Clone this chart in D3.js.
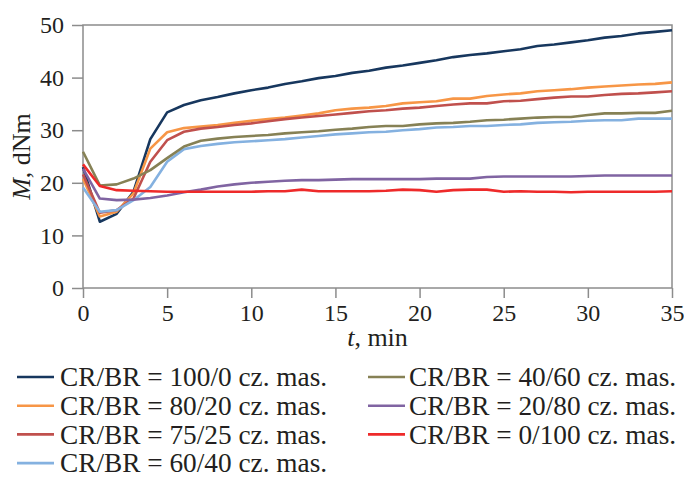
<!DOCTYPE html>
<html>
<head>
<meta charset="utf-8">
<script src="https://cdn.jsdelivr.net/npm/d3@7"></script>
<style>
  body { margin: 0; background: #fff; }
  text { font-family: "Liberation Serif", serif; fill: #231f20; }
</style>
</head>
<body>
<div id="chart"></div>
<script>
// czas mieszania, min
const minutes = d3.range(0, 36);

// moment obrotowy M, dNm dla kazdej mieszanki CR/BR
const cr100 = [23.0, 12.6, 14.1, 18.3, 28.3, 33.4, 34.8, 35.7, 36.3, 37.0, 37.6, 38.1, 38.8, 39.3, 39.9, 40.3, 40.9, 41.3, 41.9, 42.3, 42.8, 43.3, 43.9, 44.3, 44.6, 45.0, 45.4, 46.0, 46.3, 46.7, 47.1, 47.6, 47.9, 48.4, 48.7, 49.0];
const cr80 = [20.8, 13.6, 14.5, 18.0, 26.5, 29.6, 30.4, 30.7, 31.0, 31.4, 31.8, 32.1, 32.4, 32.8, 33.2, 33.8, 34.1, 34.3, 34.6, 35.1, 35.3, 35.5, 36.0, 36.0, 36.5, 36.8, 37.0, 37.4, 37.6, 37.8, 38.1, 38.3, 38.5, 38.7, 38.8, 39.1];
const cr75 = [21.6, 14.3, 14.8, 17.0, 24.0, 28.1, 29.7, 30.3, 30.6, 31.0, 31.3, 31.7, 32.1, 32.4, 32.7, 33.0, 33.3, 33.6, 33.8, 34.1, 34.3, 34.6, 34.9, 35.1, 35.1, 35.5, 35.6, 35.9, 36.2, 36.4, 36.4, 36.7, 36.9, 37.0, 37.2, 37.4];
const cr60 = [19.1, 14.5, 14.8, 16.7, 19.2, 24.0, 26.4, 27.0, 27.4, 27.7, 27.9, 28.1, 28.3, 28.6, 28.9, 29.2, 29.4, 29.6, 29.7, 30.0, 30.2, 30.5, 30.6, 30.8, 30.8, 31.0, 31.1, 31.4, 31.5, 31.6, 31.8, 31.9, 31.9, 32.2, 32.2, 32.2];
const cr40 = [25.9, 19.5, 19.7, 20.8, 22.4, 24.7, 26.9, 28.0, 28.4, 28.7, 28.9, 29.1, 29.4, 29.6, 29.8, 30.1, 30.3, 30.6, 30.8, 30.8, 31.1, 31.3, 31.4, 31.6, 31.9, 32.0, 32.2, 32.4, 32.5, 32.5, 32.9, 33.2, 33.2, 33.3, 33.3, 33.7];
const cr20 = [22.7, 17.0, 16.7, 16.8, 17.1, 17.6, 18.2, 18.7, 19.3, 19.7, 20.0, 20.2, 20.4, 20.5, 20.5, 20.6, 20.7, 20.7, 20.7, 20.7, 20.7, 20.8, 20.8, 20.8, 21.1, 21.2, 21.2, 21.2, 21.2, 21.2, 21.3, 21.4, 21.4, 21.4, 21.4, 21.4];
const cr0 = [23.5, 19.4, 18.6, 18.5, 18.4, 18.3, 18.3, 18.3, 18.3, 18.3, 18.3, 18.4, 18.4, 18.7, 18.4, 18.4, 18.4, 18.4, 18.5, 18.7, 18.6, 18.3, 18.6, 18.7, 18.7, 18.3, 18.4, 18.3, 18.3, 18.2, 18.3, 18.3, 18.3, 18.3, 18.3, 18.4];

const seriesNames = ["CR/BR = 100/0 cz. mas.", "CR/BR = 80/20 cz. mas.", "CR/BR = 75/25 cz. mas.", "CR/BR = 60/40 cz. mas.", "CR/BR = 40/60 cz. mas.", "CR/BR = 20/80 cz. mas.", "CR/BR = 0/100 cz. mas."];
const seriesValues = [cr100, cr80, cr75, cr60, cr40, cr20, cr0];
const colors = ["#17375e", "#f79646", "#c0504d", "#84b1e0", "#868155", "#8064a2", "#ee2a2a"];

const xTicks = [0, 5, 10, 15, 20, 25, 30, 35];
const yTicks = [0, 10, 20, 30, 40, 50];

const margin = { top: 25, right: 12, bottom: 190, left: 83 },
  width = 684 - margin.left - margin.right,
  height = 478 - margin.top - margin.bottom;

const svg = d3.select("#chart")
  .append("svg")
  .attr("width", 684)
  .attr("height", 478);

const x = d3.scaleLinear().domain([0, 35]).range([0, width]);
const y = d3.scaleLinear().domain([0, 50]).range([height, 0]);

const g = svg.append("g")
  .attr("transform", "translate(" + margin.left + "," + margin.top + ")");

// ramka wykresu
g.append("rect")
  .attr("width", width)
  .attr("height", height)
  .attr("fill", "none")
  .attr("stroke", "#8c8c8c")
  .attr("stroke-width", 1.5);

const yAxis = g.append("g")
  .call(d3.axisLeft(y).tickValues(yTicks).tickSize(11).tickPadding(8));
const xAxis = g.append("g")
  .attr("transform", "translate(0," + height + ")")
  .call(d3.axisBottom(x).tickValues(xTicks).tickSize(10).tickPadding(6));

[xAxis, yAxis].forEach((a) => {
  a.select(".domain").remove();
  a.selectAll(".tick line").attr("stroke", "#8c8c8c").attr("stroke-width", 1.5);
  a.selectAll(".tick text")
    .attr("fill", "#231f20")
    .style("font-family", "'Liberation Serif', serif")
    .style("font-size", "24px");
});

// linie serii
const line = d3.line()
  .x((d, i) => x(minutes[i]))
  .y((d) => y(d));

g.selectAll("seriesLines")
  .data(seriesValues)
  .enter()
  .append("path")
  .attr("d", (d) => line(d))
  .attr("fill", "none")
  .attr("stroke", (d, i) => colors[i])
  .attr("stroke-width", 2.6)
  .attr("stroke-linejoin", "round");

// tytuly osi
const xTitle = svg.append("text")
  .attr("x", margin.left + width / 2)
  .attr("y", 346)
  .attr("text-anchor", "middle")
  .style("font-size", "26px");
xTitle.append("tspan").style("font-style", "italic").text("t");
xTitle.append("tspan").text(", min");

const yTitle = svg.append("text")
  .attr("transform", "translate(30," + (margin.top + height / 2) + ") rotate(-90)")
  .attr("text-anchor", "middle")
  .style("font-size", "26px");
yTitle.append("tspan").style("font-style", "italic").text("M");
yTitle.append("tspan").text(", dNm");

// legenda w dwoch kolumnach
const legend = svg.selectAll("legendItems")
  .data(seriesNames)
  .enter()
  .append("g")
  .attr("transform", (d, i) => {
    const col = i < 4 ? 0 : 1, row = i < 4 ? i : i - 4;
    return "translate(" + (col === 0 ? 17 : 368) + "," + (377 + row * 28.7) + ")";
  });

legend.append("line")
  .attr("x1", 0)
  .attr("x2", 37)
  .attr("stroke", (d, i) => colors[i])
  .attr("stroke-width", 2.6);

legend.append("text")
  .attr("x", (d, i) => i < 4 ? 43 : 41)
  .attr("dy", "0.34em")
  .style("font-size", "27.3px")
  .text((d) => d);
</script>
</body>
</html>
